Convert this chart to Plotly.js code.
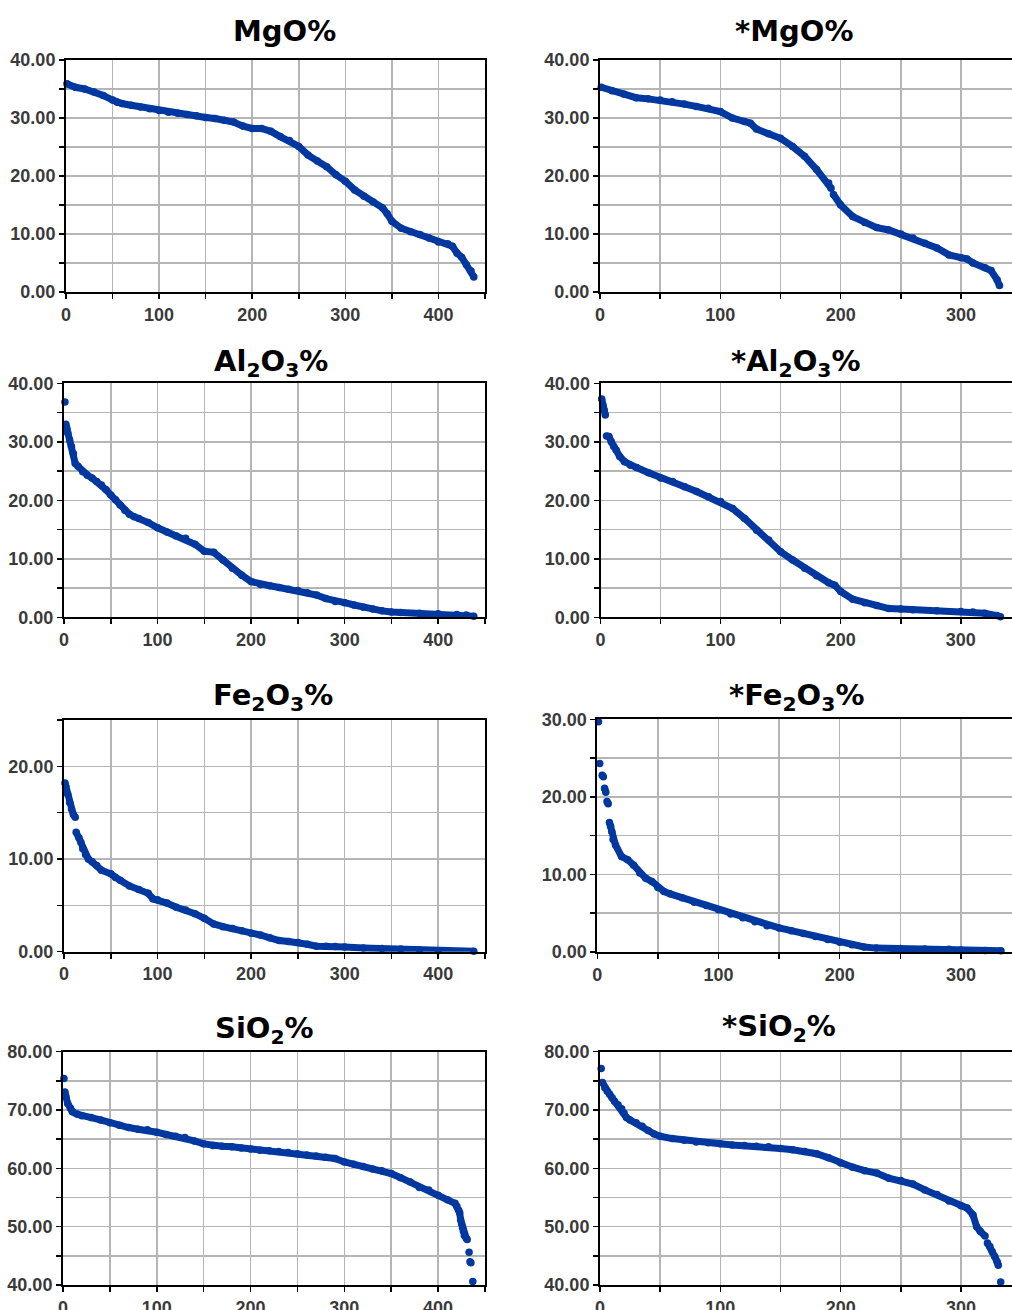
<!DOCTYPE html>
<html><head><meta charset="utf-8">
<script src="https://cdn.plot.ly/plotly-3.0.1.min.js"></script>
<style>html,body{margin:0;padding:0;background:#fff;overflow:hidden}</style>
</head><body><div id="chart" style="width:1012px;height:1310px"></div>
<script>
// ---------------- data (rank of sample, sorted value) ----------------
const titles = ["MgO%", "*MgO%", "Al<sub>2</sub>O<sub>3</sub>%", "*Al<sub>2</sub>O<sub>3</sub>%",
                "Fe<sub>2</sub>O<sub>3</sub>%", "*Fe<sub>2</sub>O<sub>3</sub>%", "SiO<sub>2</sub>%", "*SiO<sub>2</sub>%"];

const mgoRank = [1,10,20,30,40,50,55,60,70,80,90,100,110,120,130,140,150,160,170,180,190,200,210,220,230,240,250,260,270,280,290,300,310,320,330,340,345,350,360,370,380,390,400,410,415,420,425,430,435,438];
const mgoVal  = [35.9,35.3,35.0,34.5,33.9,33.1,32.7,32.5,32.2,31.9,31.6,31.3,31.0,30.8,30.6,30.4,30.1,29.9,29.6,29.3,28.6,28.2,28.2,27.7,26.8,26.1,25.1,23.6,22.6,21.6,20.2,19.1,17.6,16.5,15.5,14.5,13.5,12.2,11.0,10.4,9.9,9.3,8.6,8.3,7.9,6.7,6.0,4.7,3.6,2.6];

const mgoStarRank = [1,10,20,30,40,50,60,70,80,90,100,110,120,125,130,140,150,160,170,180,190,192,null,194,200,210,220,230,240,250,260,270,280,290,300,305,310,320,325,330,332];
const mgoStarVal  = [35.3,34.7,34.1,33.5,33.3,33.1,32.8,32.4,32.0,31.7,31.1,30.0,29.4,29.1,28.1,27.3,26.5,25.1,23.4,21.1,18.8,17.9,null,16.8,15.0,13.0,12.0,11.1,10.7,10.0,9.3,8.4,7.6,6.4,5.9,5.7,5.0,4.2,3.7,2.1,1.1];

const alRank = [1,null,2,3,4,6,8,10,12,15,20,25,30,35,40,45,50,55,60,65,70,75,80,90,100,110,120,130,140,150,160,170,180,190,200,210,220,230,240,250,260,270,280,290,300,310,320,330,340,350,360,380,400,420,430,438];
const alVal  = [36.8,null,33.0,32.3,31.5,30.3,29.2,28.0,26.3,25.8,24.9,24.3,23.8,23.2,22.6,21.8,20.9,20.1,19.2,18.3,17.6,17.2,16.9,16.2,15.3,14.6,13.9,13.5,12.5,11.3,11.1,9.8,8.4,7.2,6.1,5.6,5.4,5.1,4.8,4.6,4.2,3.8,3.2,2.7,2.5,2.1,1.7,1.4,1.1,0.9,0.8,0.7,0.6,0.5,0.4,0.2];

const alStarRank = [1,2,3,4,null,5,7,9,11,13,16,20,25,30,40,50,60,70,80,90,100,110,120,130,140,150,160,170,180,190,195,200,210,220,230,240,250,260,280,300,310,320,330,333];
const alStarVal  = [37.3,36.3,35.4,34.6,null,31.0,30.9,30.0,29.2,28.6,27.5,26.6,26.0,25.6,24.7,23.8,23.2,22.3,21.5,20.6,19.8,18.6,16.9,14.9,13.2,11.2,9.8,8.4,7.1,5.9,5.5,4.4,3.1,2.5,2.0,1.5,1.4,1.3,1.1,1.0,0.9,0.7,0.3,0.1];

const feRank = [1,2,4,6,8,10,12,null,13,16,18,20,23,26,30,35,40,50,55,60,70,80,90,95,100,110,120,130,140,150,160,170,180,190,200,210,220,230,240,250,260,270,280,290,300,320,340,360,380,400,438];
const feVal  = [18.2,17.8,17.0,16.1,15.4,14.8,14.5,null,12.9,12.3,11.8,11.1,10.5,10.0,9.7,9.3,8.8,8.4,8.0,7.7,7.1,6.7,6.3,5.7,5.6,5.25,4.8,4.5,4.1,3.6,3.0,2.7,2.5,2.25,2.0,1.8,1.5,1.2,1.1,1.0,0.8,0.6,0.6,0.55,0.5,0.4,0.35,0.3,0.2,0.1,0.05];

const feStarRank = [1,null,2,null,4,5,null,6,7,null,8,9,null,10,11,12,13,15,20,25,30,35,40,45,50,55,60,70,80,90,100,110,120,130,140,150,160,170,180,190,200,210,220,230,250,270,290,300,320,333];
const feStarVal  = [29.7,null,24.3,null,22.8,22.6,null,21.1,20.6,null,19.4,19.1,null,16.7,16.2,15.5,14.5,13.8,12.3,11.9,11.2,10.2,9.5,9.1,8.3,7.8,7.5,7.0,6.4,6.0,5.45,4.9,4.4,3.9,3.4,3.1,2.75,2.4,2.0,1.6,1.25,0.95,0.65,0.5,0.45,0.4,0.35,0.25,0.2,0.15];

const siRank = [1,null,2,3,5,8,10,15,20,30,40,50,60,70,80,90,100,110,120,130,140,150,160,170,180,190,200,210,220,230,240,250,260,270,280,290,300,310,320,330,340,350,360,370,380,390,400,410,418,420,422,423,424,425,426,427,428,430,431,null,433,null,434,435,null,437];
const siVal  = [75.4,null,73.1,72.3,71.1,70.3,69.7,69.3,69.0,68.7,68.3,67.8,67.4,67.0,66.7,66.6,66.2,65.8,65.5,65.3,64.7,64.2,63.9,63.8,63.7,63.5,63.3,63.1,63.0,62.9,62.7,62.5,62.3,62.1,61.9,61.7,61.1,60.7,60.3,59.9,59.6,59.1,58.4,57.7,56.7,56.3,55.4,54.6,54.0,53.5,52.8,52.4,51.2,50.5,49.8,49.2,48.5,48.0,47.8,null,45.6,null,44.0,43.8,null,40.6];

const siStarRank = [1,null,2,4,6,8,10,12,15,18,20,22,25,30,35,40,45,50,60,70,80,90,100,110,120,130,140,150,160,170,180,190,200,210,220,230,240,250,260,270,280,290,300,305,310,313,316,320,null,322,324,326,328,330,331,null,333];
const siStarVal  = [77.1,null,74.7,73.8,73.2,72.7,72.1,71.5,70.9,70.2,69.5,68.7,68.3,67.8,67.2,66.5,65.9,65.5,65.1,64.8,64.5,64.4,64.2,64.0,63.9,63.8,63.7,63.4,63.2,62.9,62.5,61.8,60.9,60.2,59.6,59.2,58.3,57.9,57.3,56.3,55.5,54.4,53.6,53.2,52.0,50.0,49.2,48.4,null,47.2,46.6,45.7,44.9,44.0,43.4,null,40.5];

const seriesX = [mgoRank, mgoStarRank, alRank, alStarRank, feRank, feStarRank, siRank, siStarRank];
const seriesY = [mgoVal, mgoStarVal, alVal, alStarVal, feVal, feStarVal, siVal, siStarVal];

// ---------------- layout (pixel geometry) ----------------
const W = 1012, H = 1310;
const panels = [
  {x0:66,  x1:485,  t:60,    b:292,   xr:[0,450],   yr:[0,40],  right:false, tx:284.5, ty:39},
  {x0:600, x1:1012, t:60,    b:292,   xr:[0,342.4], yr:[0,40],  right:true,  tx:794,   ty:39},
  {x0:64,  x1:485,  t:383.3, b:617.3, xr:[0,450],   yr:[0,40],  right:false, tx:271,   ty:369},
  {x0:600.5,x1:1012,t:383.3, b:617.3, xr:[0,342.6], yr:[0,40],  right:true,  tx:796,   ty:369},
  {x0:64,  x1:485,  t:720,   b:951.7, xr:[0,450],   yr:[0,25],  right:false, tx:272.5, ty:703},
  {x0:597.3,x1:1012,t:719.3, b:952,   xr:[0,342.1], yr:[0,30],  right:true,  tx:796.5, ty:703},
  {x0:63,  x1:485,  t:1051.7,b:1285,  xr:[0,450],   yr:[40,80], right:false, tx:264.5, ty:1036},
  {x0:600, x1:1012, t:1051.7,b:1285,  xr:[0,342.4], yr:[40,80], right:true,  tx:779,   ty:1034}
];

const blue = '#0038a0';
const gridC = '#b5b5b5';
const tickFont = {family: 'Liberation Sans, Arial, sans-serif', size: 18, color: '#3a3a3a', weight: 'bold'};

const data = [];
const layout = {
  width: W, height: H, margin: {l:0, r:0, t:0, b:0},
  paper_bgcolor: '#fff', plot_bgcolor: '#fff', showlegend: false,
  annotations: []
};

panels.forEach((p, i) => {
  const n = i + 1;
  const xa = 'x' + (n === 1 ? '' : n), ya = 'y' + (n === 1 ? '' : n);
  data.push({
    type: 'scatter', mode: 'lines+markers', x: seriesX[i], y: seriesY[i],
    xaxis: xa, yaxis: ya, cliponaxis: false, connectgaps: false,
    line: {color: blue, width: 7}, marker: {color: blue, size: 7.5},
    hoverinfo: 'x+y'
  });
  const axCommon = {
    showline: true, linecolor: '#000', linewidth: 2,
    ticks: 'outside', ticklen: 5, tickwidth: 1.5, tickcolor: '#000',
    showgrid: true, gridcolor: gridC, gridwidth: 1.5, zeroline: false,
    tickfont: tickFont, fixedrange: true
  };
  layout['xaxis' + (n === 1 ? '' : n)] = Object.assign({}, axCommon, {
    domain: [p.x0 / W, p.x1 / W], range: p.xr, anchor: ya,
    tick0: 0, dtick: 100, mirror: true,
    minor: {dtick: 50, tick0: 0, showgrid: true, gridcolor: gridC, gridwidth: 1.5, ticks: 'outside', ticklen: 5, tickwidth: 1.5, tickcolor: '#000'}
  });
  layout['yaxis' + (n === 1 ? '' : n)] = Object.assign({}, axCommon, {
    domain: [(H - p.b) / H, (H - p.t) / H], range: p.yr, anchor: xa,
    tick0: 0, dtick: 10, tickformat: '.2f', mirror: !p.right,
    minor: {dtick: 5, tick0: 0, showgrid: true, gridcolor: gridC, gridwidth: 1.5, ticks: 'outside', ticklen: 5, tickwidth: 1.5, tickcolor: '#000'}
  });
  layout.annotations.push({
    xref: 'paper', yref: 'paper', x: p.tx / W, y: 1 - (p.ty - 27) / H,
    xanchor: 'center', yanchor: 'top', showarrow: false,
    text: '<b>' + titles[i] + '</b>',
    font: {family: 'DejaVu Sans, sans-serif', size: 29, color: '#000'}
  });
});

Plotly.newPlot('chart', data, layout, {displayModeBar: false, staticPlot: true});
</script>
</body></html>
